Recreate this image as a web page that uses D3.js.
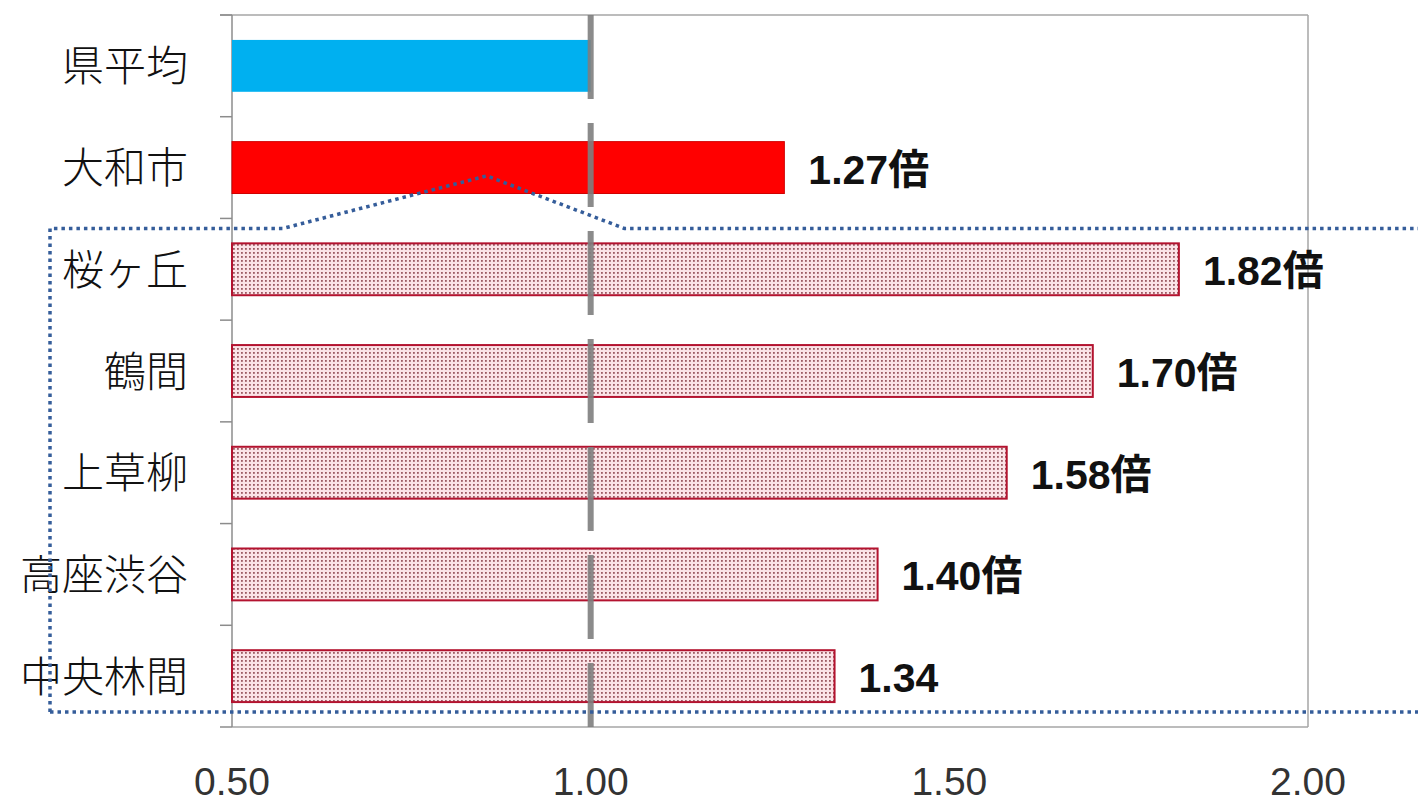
<!DOCTYPE html>
<html lang="ja">
<head>
<meta charset="utf-8">
<script src="https://cdn.jsdelivr.net/npm/d3@7"></script>
<style>
  html, body { margin: 0; padding: 0; background: #fff; }
  svg { display: block; }
</style>
</head>
<body>
<svg id="chart" width="1418" height="802"></svg>
<script>
// Areas compared against the prefecture average (1.00)
const categories = ["県平均", "大和市", "桜ヶ丘", "鶴間", "上草柳", "高座渋谷", "中央林間"];
const values     = [1.00, 1.27, 1.82, 1.70, 1.58, 1.40, 1.34];
const valueLabels = ["", "1.27倍", "1.82倍", "1.70倍", "1.58倍", "1.40倍", "1.34"];
const barKinds   = ["average", "city", "station", "station", "station", "station", "station"];
const xTicks     = [0.5, 1.0, 1.5, 2.0];
const xDomain    = [0.5, 2.0];
const referenceValue = 1.0;

const svg = d3.select("#chart");
const margin = { top: 15, right: 110, bottom: 75, left: 232 };
const W = +svg.attr("width"), H = +svg.attr("height");
const innerW = W - margin.left - margin.right;
const innerH = H - margin.top - margin.bottom;

const x = d3.scaleLinear().domain(xDomain).range([0, innerW]);
const y = d3.scaleBand().domain(categories).range([0, innerH])
  .paddingInner(0.49).paddingOuter(0.245);

// dotted fill for the station-area bars
const defs = svg.append("defs");
const pat = defs.append("pattern")
  .attr("id", "dots").attr("patternUnits", "userSpaceOnUse")
  .attr("width", 4).attr("height", 4);
pat.append("rect").attr("width", 4).attr("height", 4).attr("fill", "#fbe3e7");
pat.append("rect").attr("x", 1).attr("y", 1).attr("width", 1.8).attr("height", 1.8)
  .attr("fill", "#9c5a63");

const g = svg.append("g").attr("transform", `translate(${margin.left},${margin.top})`);

// plot frame
const frameColor = "#a6a6a6";
g.append("line").attr("x1", -12).attr("x2", innerW).attr("y1", 0).attr("y2", 0)
  .attr("stroke", frameColor).attr("stroke-width", 1.5);
g.append("line").attr("x1", innerW).attr("x2", innerW).attr("y1", 0).attr("y2", innerH)
  .attr("stroke", frameColor).attr("stroke-width", 1.5);
g.append("line").attr("x1", 0).attr("x2", innerW).attr("y1", innerH).attr("y2", innerH)
  .attr("stroke", frameColor).attr("stroke-width", 1.5);

// category axis: line with ticks between the bands
g.append("line").attr("x1", 0).attr("x2", 0).attr("y1", 0).attr("y2", innerH)
  .attr("stroke", "#8c8c8c").attr("stroke-width", 1.5);
const boundaries = d3.range(categories.length + 1).map(i => i * innerH / categories.length);
g.selectAll("line.ytick").data(boundaries).join("line")
  .attr("class", "ytick")
  .attr("x1", -12).attr("x2", 0)
  .attr("y1", d => d).attr("y2", d => d)
  .attr("stroke", "#8c8c8c").attr("stroke-width", 1.5);

// bars
const fillFor = k => k === "average" ? "#00b0f0" : k === "city" ? "#ff0000" : "url(#dots)";
const strokeFor = k => k === "average" ? "none" : k === "city" ? "#d00000" : "#b3132f";
g.selectAll("rect.bar").data(categories).join("rect")
  .attr("class", "bar")
  .attr("x", x(xDomain[0]))
  .attr("y", d => y(d))
  .attr("width", (d, i) => x(values[i]) - x(xDomain[0]))
  .attr("height", y.bandwidth())
  .attr("fill", (d, i) => fillFor(barKinds[i]))
  .attr("stroke", (d, i) => strokeFor(barKinds[i]))
  .attr("stroke-width", (d, i) => barKinds[i] === "station" ? 2 : 1);

// reference line at 1.00
g.append("line")
  .attr("x1", x(referenceValue)).attr("x2", x(referenceValue))
  .attr("y1", 0).attr("y2", innerH)
  .attr("stroke", "#7f7f7f").attr("stroke-width", 6)
  .attr("stroke-dasharray", "84,24").attr("opacity", 0.9);

// category labels
g.selectAll("text.cat").data(categories).join("text")
  .attr("class", "cat")
  .attr("x", -44)
  .attr("y", d => y(d) + y.bandwidth() / 2 - 3)
  .attr("text-anchor", "end")
  .attr("dominant-baseline", "central")
  .attr("font-family", "'Noto Sans CJK JP', sans-serif")
  .attr("font-weight", 300)
  .attr("font-size", 42)
  .attr("fill", "#111")
  .text(d => d);

// value labels
g.selectAll("text.val").data(categories).join("text")
  .attr("class", "val")
  .attr("x", (d, i) => x(values[i]) + 24)
  .attr("y", d => y(d) + y.bandwidth() / 2 + 2)
  .attr("dominant-baseline", "central")
  .attr("font-family", "'Liberation Sans', 'Noto Sans CJK JP', sans-serif")
  .attr("font-weight", "bold")
  .attr("font-size", 41)
  .attr("fill", "#111")
  .text((d, i) => valueLabels[i]);

// x axis labels
g.selectAll("text.xt").data(xTicks).join("text")
  .attr("class", "xt")
  .attr("x", d => x(d))
  .attr("y", innerH + 68)
  .attr("text-anchor", "middle")
  .attr("font-family", "'Liberation Sans', sans-serif")
  .attr("font-size", 39)
  .attr("fill", "#333")
  .text(d => d.toFixed(2));

// dotted outline grouping the station areas under 大和市
const boxTop = y(categories[2]) - (y.step() - y.bandwidth()) / 2 + 10;
const boxBottom = innerH - 15;
const peakY = y(categories[1]) + y.bandwidth() * 0.66;
const outline = [
  [-182, boxBottom],
  [-182, boxTop],
  [x(0.571), boxTop],
  [x(0.855), peakY],
  [x(1.047), boxTop],
  [W - margin.left, boxTop]
];
g.append("path")
  .attr("d", d3.line()(outline))
  .attr("fill", "none")
  .attr("stroke", "#355d9a").attr("stroke-width", 3.5)
  .attr("stroke-dasharray", "3.5,4");
g.append("line")
  .attr("x1", -182).attr("x2", W - margin.left)
  .attr("y1", boxBottom).attr("y2", boxBottom)
  .attr("stroke", "#355d9a").attr("stroke-width", 3.5)
  .attr("stroke-dasharray", "3.5,4");
</script>
</body>
</html>
